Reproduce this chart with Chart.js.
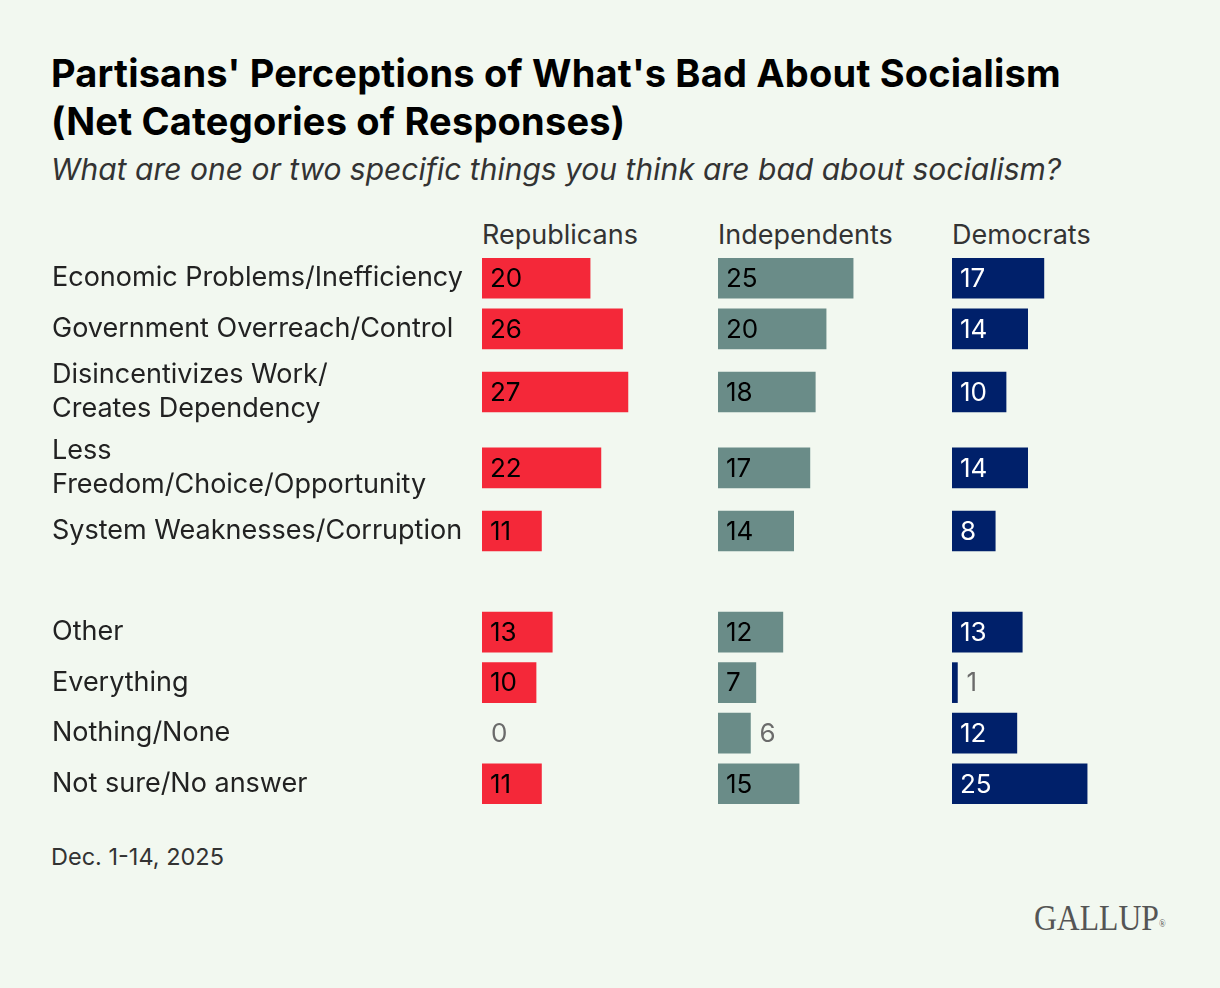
<!DOCTYPE html>
<html>
<head>
<meta charset="utf-8">
<script src="https://cdn.jsdelivr.net/npm/chart.js@4.4.1/dist/chart.umd.min.js"></script>
<style>
  html, body { margin: 0; padding: 0; }
  body { width: 1220px; height: 988px; background: #f2f8f0; position: relative; overflow: hidden; font-family: Inter, "Noto Sans", sans-serif; }
  .abs { position: absolute; white-space: nowrap; }
  #title { left: 51px; top: 49px; font-size: 38px; font-weight: 700; line-height: 48px; color: #000; letter-spacing: 0.2px; }
  #subtitle { left: 51px; top: 150px; font-size: 30px; font-style: italic; line-height: 38px; color: #333; }
  .hdr { top: 219px; font-size: 27px; line-height: 32px; color: #333; }
  #footer { left: 51px; top: 844px; font-size: 23.5px; line-height: 26px; color: #333; }
  #logo { right: 54px; top: 897px; font-family: "Liberation Serif", "DejaVu Serif", serif; font-size: 36px; line-height: 42px; color: #555; transform: scaleX(0.88); transform-origin: right center; }
  #logo sup { font-size: 10px; vertical-align: top; position: relative; top: 6px; }
  canvas { position: absolute; }
</style>
</head>
<body>
<div id="title" class="abs">Partisans' Perceptions of What's Bad About Socialism<br>(Net Categories of Responses)</div>
<div id="subtitle" class="abs">What are one or two specific things you think are bad about socialism?</div>
<div id="h0" class="abs hdr"></div>
<div id="h1" class="abs hdr"></div>
<div id="h2" class="abs hdr"></div>
<div id="footer" class="abs">Dec. 1-14, 2025</div>
<div id="logo" class="abs">GALLUP<sup>®</sup></div>
<canvas id="c0"></canvas>
<canvas id="c1"></canvas>
<canvas id="c2"></canvas>
<script>
// ---- data ----
const categories = [
  ["Economic Problems/Inefficiency"],
  ["Government Overreach/Control"],
  ["Disincentivizes Work/", "Creates Dependency"],
  ["Less", "Freedom/Choice/Opportunity"],
  ["System Weaknesses/Corruption"],
  ["Other"],
  ["Everything"],
  ["Nothing/None"],
  ["Not sure/No answer"]
];
const groups = [0, 0, 0, 0, 0, 1, 1, 1, 1];
const seriesNames = ["Republicans", "Independents", "Democrats"];
const republicans = [20, 26, 27, 22, 11, 13, 10, 0, 11];
const independents = [25, 20, 18, 17, 14, 12, 7, 6, 15];
const democrats = [17, 14, 10, 14, 8, 13, 1, 12, 25];

// ---- styling ----
const seriesValues = [republicans, independents, democrats];
const barColors = ["#f42839", "#6a8c88", "#00206a"];
const insideText = ["#000000", "#000000", "#ffffff"];
const outsideText = "#6b6b6b";
const insideMin = 7;
const xMax = 42;

// row positions derived from label line counts (single line = 1 unit, two lines = 1.5 units, 1 unit gap between groups)
const rowH = categories.map(l => l.length > 1 ? 1.5 : 1);
const positions = [];
categories.forEach((c, i) => {
  if (i === 0) { positions.push(0); return; }
  let p = positions[i - 1] + (rowH[i - 1] + rowH[i]) / 2;
  if (groups[i] !== groups[i - 1]) p += 1;
  positions.push(p);
});
const yMin = positions[0] - rowH[0] / 2;
const yMax = positions[positions.length - 1] + rowH[rowH.length - 1] / 2;

const FONT = "Inter, 'Noto Sans', sans-serif";
const labelW = 430;
const areaW = 227;
const unitPx = 50.5;
const topPx = 278 - (positions[0] - yMin) * unitPx;
const heightPx = Math.round((yMax - yMin) * unitPx);
const lefts = [52, 718, 952];

const valueLabels = {
  id: 'valueLabels',
  afterDatasetsDraw(chart, args, opts) {
    const ctx = chart.ctx;
    const meta = chart.getDatasetMeta(0);
    const vals = chart.data.datasets[0].data;
    ctx.save();
    ctx.font = "26px " + FONT;
    ctx.textBaseline = 'middle';
    ctx.textAlign = 'left';
    meta.data.forEach((bar, i) => {
      const v = vals[i].x;
      const p = bar.getProps(['x', 'y', 'base'], true);
      if (v >= insideMin) {
        ctx.fillStyle = opts.inside;
        ctx.fillText(String(v), p.base + 8, p.y + 1);
      } else {
        ctx.fillStyle = outsideText;
        ctx.fillText(String(v), p.x + 9, p.y + 1);
      }
    });
    ctx.restore();
  }
};

seriesNames.forEach((name, k) => {
  const hdr = document.getElementById('h' + k);
  hdr.textContent = name;
  hdr.style.left = (k === 0 ? lefts[0] + labelW : lefts[k]) + 'px';

  const showLabels = k === 0;
  const w = (showLabels ? labelW : 0) + areaW;
  const canvas = document.getElementById('c' + k);
  canvas.style.left = lefts[k] + 'px';
  canvas.style.top = topPx + 'px';
  canvas.style.width = w + 'px';
  canvas.style.height = heightPx + 'px';
  canvas.width = w; canvas.height = heightPx;

  new Chart(canvas, {
    type: 'bar',
    data: {
      datasets: [{
        label: name,
        data: seriesValues[k].map((v, i) => ({ x: v, y: positions[i] })),
        backgroundColor: (c) => (c.raw && c.raw.x === 0) ? 'rgba(0,0,0,0)' : barColors[k],
        borderWidth: 0,
        barThickness: 40
      }]
    },
    plugins: [valueLabels],
    options: {
      indexAxis: 'y',
      responsive: false,
      animation: false,
      devicePixelRatio: 1,
      layout: { padding: 0 },
      plugins: {
        legend: { display: false },
        tooltip: { enabled: false },
        title: { display: false },
        valueLabels: { inside: insideText[k] }
      },
      scales: {
        x: { type: 'linear', min: 0, max: xMax, display: false, offset: false },
        y: {
          type: 'linear',
          reverse: true,
          offset: false,
          min: yMin,
          max: yMax,
          display: showLabels,
          grid: { display: false, offset: false },
          border: { display: false },
          afterBuildTicks(scale) { scale.ticks = positions.map(v => ({ value: v })); },
          afterFit(scale) {
            if (showLabels) scale.width = labelW;
            scale.paddingTop = 0; scale.paddingBottom = 0;
            scale.paddingLeft = 0; scale.paddingRight = 0;
          },
          ticks: {
            crossAlign: 'far',
            padding: 0,
            autoSkip: false,
            color: '#222222',
            font: { family: FONT, size: 27, lineHeight: 1.26 },
            callback(value) {
              const i = positions.indexOf(value);
              return i >= 0 ? categories[i] : '';
            }
          }
        }
      }
    }
  });
});
</script>
</body>
</html>
